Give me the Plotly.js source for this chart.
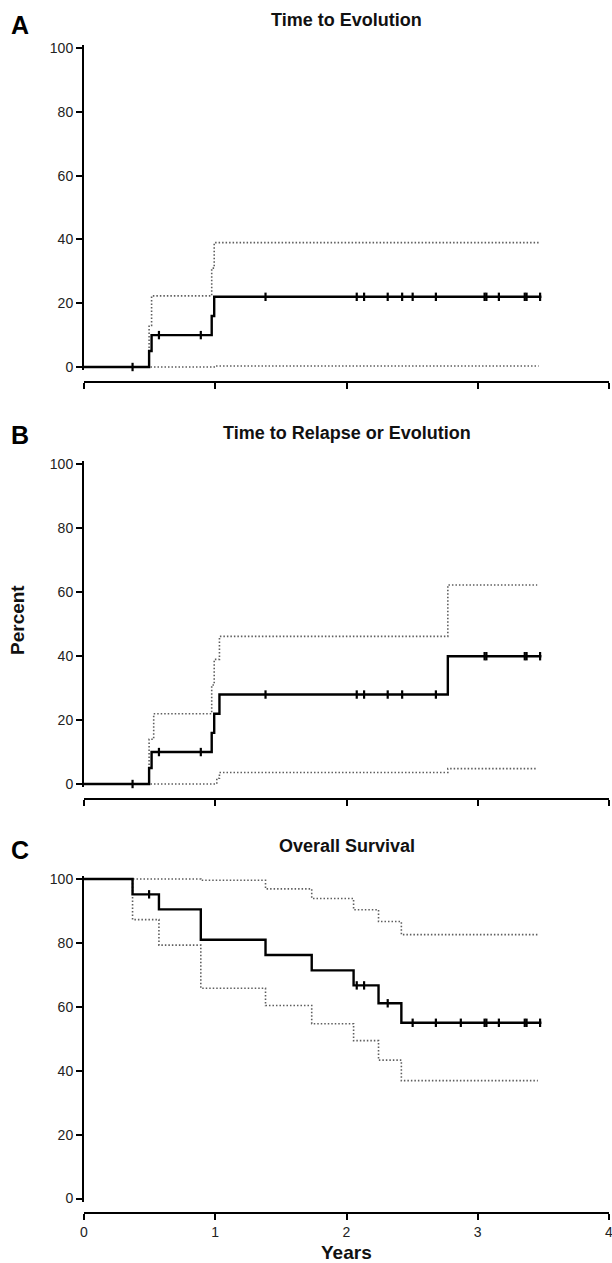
<!DOCTYPE html>
<html>
<head>
<meta charset="utf-8">
<script src="https://cdn.plot.ly/plotly-3.0.1.min.js"></script>
<style>html,body{margin:0;padding:0;background:#fff;}#chart{width:612px;height:1263px;}</style>
</head>
<body>
<div id="chart"></div>
<script>
// ---------- Data ----------
const panelTitles = ["Time to Evolution", "Time to Relapse or Evolution", "Overall Survival"];
const panelLetters = ["A", "B", "C"];
const yTicks = [0, 20, 40, 60, 80, 100];
const xTicks = [0, 1, 2, 3, 4];

// Panel A: Time to Evolution
const A_time = [0, 0.496, 0.515, 0.973, 0.992, 3.485];
const A_val  = [0, 5, 10, 16, 22, 22];
const A_censor = [0.37, 0.571, 0.89, 1.383, 2.078, 2.134, 2.314, 2.424, 2.504, 2.681, 3.052, 3.066, 3.161, 3.358, 3.372, 3.475];
const A_up_time = [0, 0.496, 0.515, 0.973, 0.992, 3.464];
const A_up_val  = [0, 13, 22.3, 31, 39, 39];
const A_lo_time = [0, 0.992, 3.464];
const A_lo_val  = [0, 0.3, 0.3];

// Panel B: Time to Relapse or Evolution
const B_time = [0, 0.496, 0.515, 0.973, 0.992, 1.032, 2.772, 3.485];
const B_val  = [0, 5, 10, 16, 22, 28, 40, 40];
const B_censor = [0.37, 0.571, 0.89, 1.383, 2.078, 2.134, 2.314, 2.424, 2.681, 3.052, 3.066, 3.358, 3.372, 3.475];
const B_up_time = [0, 0.496, 0.531, 0.973, 0.992, 1.032, 2.772, 3.453];
const B_up_val  = [0, 14, 22, 31, 39, 46.2, 62.3, 62.3];
const B_lo_time = [0, 0.992, 1.012, 1.032, 2.772, 3.453];
const B_lo_val  = [0, 0, 1.8, 3.6, 4.8, 4.8];

// Panel C: Overall Survival
const C_time = [0, 0.37, 0.571, 0.89, 1.383, 1.735, 2.054, 2.244, 2.418, 3.485];
const C_val  = [100, 95.2, 90.5, 81.0, 76.2, 71.4, 66.7, 61.1, 55.0, 55.0];
const C_censor = [0.496, 2.078, 2.134, 2.314, 2.504, 2.681, 2.871, 3.052, 3.066, 3.161, 3.358, 3.372, 3.475];
const C_up_time = [0, 0.89, 1.383, 1.735, 2.054, 2.244, 2.418, 3.458];
const C_up_val  = [100, 99.6, 96.9, 93.9, 90.4, 86.7, 82.6, 82.6];
const C_lo_time = [0, 0.37, 0.571, 0.89, 1.383, 1.735, 2.054, 2.244, 2.418, 3.458];
const C_lo_val  = [100, 87.3, 79.3, 65.8, 60.4, 54.7, 49.4, 43.3, 36.9, 36.9];

// ---------- Layout geometry ----------
const W = 612, H = 1263;
const FONT = "Arial, 'Liberation Sans', Helvetica, sans-serif";
const xLeftPx = 84, xRightPx = 609;
const panels = [
  {y100: 48,    y0: 367,    axisY: 381.5, titleY: 20,  letterY: 25},
  {y100: 464.5, y0: 784,    axisY: 798.5, titleY: 433, letterY: 435},
  {y100: 879,   y0: 1198.5, axisY: 1213,  titleY: 846, letterY: 850}
];
const PAD = 1;

function stepValue(times, vals, t) {
  let v = vals[0];
  for (let i = 0; i < times.length; i++) { if (times[i] <= t) v = vals[i]; }
  return v;
}

const series = [
  {t: A_time, v: A_val, c: A_censor, ut: A_up_time, uv: A_up_val, lt: A_lo_time, lv: A_lo_val},
  {t: B_time, v: B_val, c: B_censor, ut: B_up_time, uv: B_up_val, lt: B_lo_time, lv: B_lo_val},
  {t: C_time, v: C_val, c: C_censor, ut: C_up_time, uv: C_up_val, lt: C_lo_time, lv: C_lo_val}
];

const traces = [];
const layout = {
  width: W, height: H,
  margin: {l: 0, r: 0, t: 0, b: 0},
  paper_bgcolor: "#fff", plot_bgcolor: "#fff",
  showlegend: false,
  font: {family: FONT, size: 14, color: "#222"},
  annotations: []
};

series.forEach((s, i) => {
  const n = i === 0 ? "" : String(i + 1);
  const xa = "x" + n, ya = "y" + n;
  const dotted = {color: "#5e5e5e", width: 1.6, dash: "1.5px,2px", shape: "hv"};
  traces.push({type: "scatter", mode: "lines", x: s.ut, y: s.uv, xaxis: xa, yaxis: ya, line: dotted, hoverinfo: "skip"});
  traces.push({type: "scatter", mode: "lines", x: s.lt, y: s.lv, xaxis: xa, yaxis: ya, line: dotted, hoverinfo: "skip"});
  traces.push({type: "scatter", mode: "lines", x: s.t, y: s.v, xaxis: xa, yaxis: ya,
               line: {color: "#000", width: 2.4, shape: "hv"}});
  traces.push({type: "scatter", mode: "markers", x: s.c, y: s.c.map(t => stepValue(s.t, s.v, t)),
               xaxis: xa, yaxis: ya, cliponaxis: false,
               marker: {symbol: "line-ns-open", size: 6, color: "#000", line: {color: "#000", width: 2.2}}});

  const p = panels[i];
  const ppu = (p.y0 - p.y100) / 100;
  const topPx = p.y100 - PAD * ppu, botPx = p.y0 + PAD * ppu;
  layout["xaxis" + n] = {
    domain: [xLeftPx / W, xRightPx / W],
    range: [0, 4],
    anchor: "free",
    position: 1 - p.axisY / H,
    showline: true, linecolor: "#000", linewidth: 2,
    ticks: "outside", ticklen: 6, tickwidth: 2, tickcolor: "#000",
    tickvals: xTicks, ticktext: xTicks.map(String),
    showticklabels: i === 2,
    ticklabeloverflow: "allow",
    tickfont: {family: FONT, size: 14, color: "#222"},
    showgrid: false, zeroline: false, fixedrange: true
  };
  layout["yaxis" + n] = {
    domain: [1 - botPx / H, 1 - topPx / H],
    range: [-PAD, 100 + PAD],
    anchor: xa,
    showline: true, linecolor: "#000", linewidth: 2,
    ticks: "outside", ticklen: 6, tickwidth: 2, tickcolor: "#000",
    tickvals: yTicks, ticktext: yTicks.map(String),
    tickfont: {family: FONT, size: 14, color: "#222"},
    showgrid: false, zeroline: false, fixedrange: true
  };
  layout.annotations.push({
    text: "<b>" + panelTitles[i] + "</b>", xref: "paper", yref: "paper",
    x: ((xLeftPx + xRightPx) / 2) / W, y: 1 - p.titleY / H,
    xanchor: "center", yanchor: "middle", showarrow: false,
    font: {family: FONT, size: 18, color: "#111"}
  });
  layout.annotations.push({
    text: "<b>" + panelLetters[i] + "</b>", xref: "paper", yref: "paper",
    x: 20 / W, y: 1 - p.letterY / H,
    xanchor: "center", yanchor: "middle", showarrow: false,
    font: {family: FONT, size: 25, color: "#000"}
  });
});

layout.annotations.push({
  text: "<b>Percent</b>", xref: "paper", yref: "paper",
  x: 18 / W, y: 1 - 620 / H, xanchor: "center", yanchor: "middle",
  textangle: -90, showarrow: false, font: {family: FONT, size: 19, color: "#111"}
});
layout.annotations.push({
  text: "<b>Years</b>", xref: "paper", yref: "paper",
  x: ((xLeftPx + xRightPx) / 2) / W, y: 1 - 1252 / H, xanchor: "center", yanchor: "middle",
  showarrow: false, font: {family: FONT, size: 19, color: "#111"}
});

Plotly.newPlot("chart", traces, layout, {staticPlot: true, displayModeBar: false});
</script>
</body>
</html>
